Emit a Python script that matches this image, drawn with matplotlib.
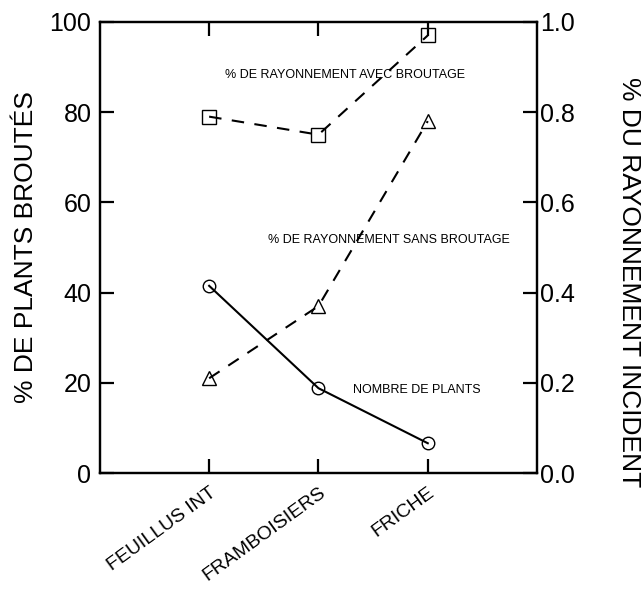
import matplotlib.pyplot as plt

plt.rcParams["font.family"] = ["Liberation Sans", "DejaVu Sans"]

SITES = ["FEUILLUS INT", "FRAMBOISIERS", "FRICHE"]
PLANTS_BROUTES = [41.5, 18.8, 6.6]
RAYON_AVEC = [0.79, 0.75, 0.97]
RAYON_SANS = [0.21, 0.37, 0.78]


def main():
    fig = plt.figure(figsize=(6.44, 5.92), dpi=100)
    ax = fig.add_axes([0.155, 0.201, 0.679, 0.762])
    ax2 = ax.twinx()
    x = [1, 2, 3]

    dash = (0, (6, 5))
    ax.plot(x, PLANTS_BROUTES, color="black", lw=1.5, marker="o", ms=9,
            mfc="none", mec="black", mew=1.0)
    ax2.plot(x, RAYON_AVEC, color="black", lw=1.5, ls=dash, marker="s",
             ms=9.5, mfc="none", mec="black", mew=1.0)
    ax2.plot(x, RAYON_SANS, color="black", lw=1.5, ls=dash, marker="^",
             ms=10, mfc="none", mec="black", mew=1.0)

    ax.set_xlim(0, 4)
    ax.set_ylim(0, 100)
    ax2.set_ylim(0, 1.0)
    ax.set_xticks(x)
    ax.set_xticklabels(SITES, rotation=36, ha="right", rotation_mode="anchor",
                       fontsize=14)
    ax.set_yticks(range(0, 101, 20))
    ax2.set_yticks([0, 0.2, 0.4, 0.6, 0.8, 1.0])
    ax2.set_yticklabels([f"{v:.1f}" for v in ax2.get_yticks()])

    for a in (ax, ax2):
        for s in a.spines.values():
            s.set_linewidth(1.6)
    ax.tick_params(axis="x", direction="in", length=10, width=1.6, top=True,
                   pad=8)
    ax.tick_params(axis="y", direction="in", length=10, width=1.6,
                   labelsize=18, pad=6)
    ax2.tick_params(axis="y", direction="in", length=10, width=1.6,
                    labelsize=18, pad=2)

    ax.set_ylabel("% DE PLANTS BROUTÉS", fontsize=19, va="center")
    ax.yaxis.set_label_coords(-0.169, 0.5)
    ax2.set_ylabel("% DU RAYONNEMENT INCIDENT", fontsize=19, rotation=-90,
                   va="center")
    ax2.yaxis.set_label_coords(1.21, 0.423)

    ax.text(2.24, 88.3, "% DE RAYONNEMENT AVEC BROUTAGE", fontsize=9,
            ha="center", va="center")
    ax.text(2.64, 51.7, "% DE RAYONNEMENT SANS BROUTAGE", fontsize=9,
            ha="center", va="center")
    ax.text(2.90, 18.4, "NOMBRE DE PLANTS", fontsize=9,
            ha="center", va="center")

    fig.savefig("out.png", dpi=100)


if __name__ == "__main__":
    main()
